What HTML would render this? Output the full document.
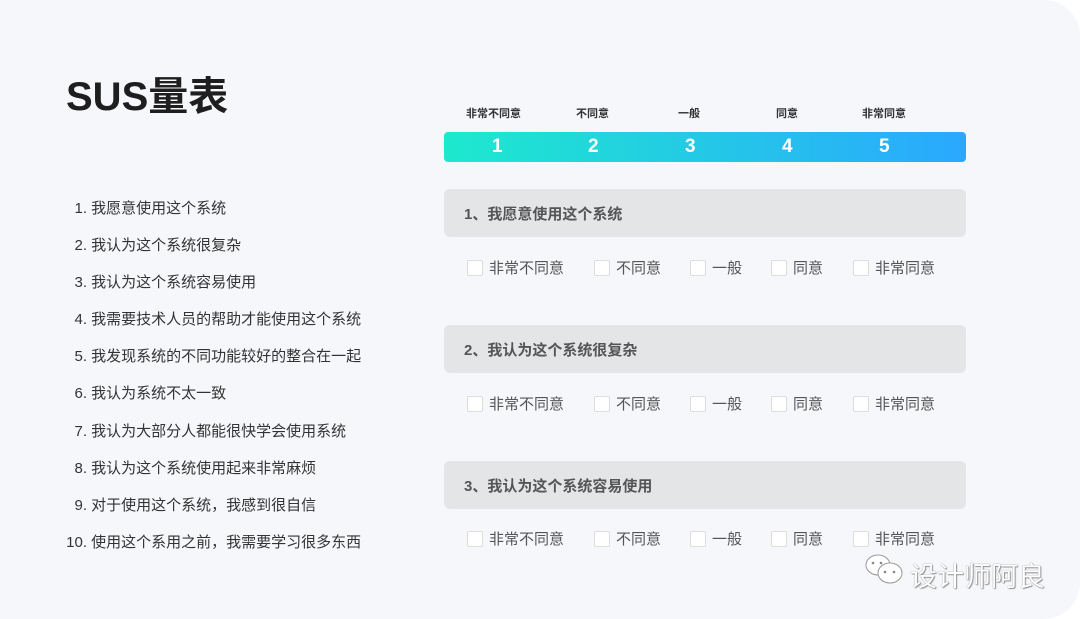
<!DOCTYPE html>
<html><head><meta charset="utf-8"><style>
*{margin:0;padding:0;box-sizing:border-box}
body{width:1080px;height:619px;background:#fff;position:relative;overflow:hidden;font-family:"Liberation Sans","Noto Sans CJK SC",sans-serif}
.card{position:absolute;left:0;top:0;width:1080px;height:619px;background:#f6f7fb;border-radius:0 36px 36px 0}
.t{position:absolute;white-space:nowrap}
.title{left:66px;top:64px;font-size:40px;font-weight:bold;color:#1e1e1e}
.li{left:58px;font-size:15px;color:#333;width:400px}
.li span{display:inline-block;width:29px;text-align:right}
.hd{font-size:11px;font-weight:bold;color:#333;top:105px}
.bar{position:absolute;left:444px;top:132px;width:522px;height:30px;border-radius:4px;background:linear-gradient(90deg,#1de9cd,#2aa8ff)}
.n{color:#fff;font-size:19px;top:136px;font-weight:bold}
.q{position:absolute;left:444px;width:522px;height:48px;background:#e4e5e7;border-radius:6px;font-size:15px;font-weight:bold;color:#555;padding:14px 0 0 20px}
.cb{position:absolute;width:16px;height:16px;background:#fff;border:1px solid #ddd;border-radius:2px}
.cl{font-size:15px;color:#555}
</style></head><body>
<div class="card"></div>
<div class="t title">SUS量表</div>
<div class="t li" style="top:197px"><span>1.</span> 我愿意使用这个系统</div>
<div class="t li" style="top:234px"><span>2.</span> 我认为这个系统很复杂</div>
<div class="t li" style="top:271px"><span>3.</span> 我认为这个系统容易使用</div>
<div class="t li" style="top:308px"><span>4.</span> 我需要技术人员的帮助才能使用这个系统</div>
<div class="t li" style="top:345px"><span>5.</span> 我发现系统的不同功能较好的整合在一起</div>
<div class="t li" style="top:382px"><span>6.</span> 我认为系统不太一致</div>
<div class="t li" style="top:420px"><span>7.</span> 我认为大部分人都能很快学会使用系统</div>
<div class="t li" style="top:457px"><span>8.</span> 我认为这个系统使用起来非常麻烦</div>
<div class="t li" style="top:494px"><span>9.</span> 对于使用这个系统，我感到很自信</div>
<div class="t li" style="top:531px"><span>10.</span> 使用这个系用之前，我需要学习很多东西</div>
<div class="t hd" style="left:466px">非常不同意</div>
<div class="t hd" style="left:576px">不同意</div>
<div class="t hd" style="left:678px">一般</div>
<div class="t hd" style="left:776px">同意</div>
<div class="t hd" style="left:862px">非常同意</div>
<div class="bar"></div>
<div class="t n" style="left:492px">1</div>
<div class="t n" style="left:588px">2</div>
<div class="t n" style="left:685px">3</div>
<div class="t n" style="left:782px">4</div>
<div class="t n" style="left:879px">5</div>
<div class="q" style="top:189px">1、我愿意使用这个系统</div>
<div class="q" style="top:325px">2、我认为这个系统很复杂</div>
<div class="q" style="top:461px">3、我认为这个系统容易使用</div>
<div id="opts"></div>
<script>
var xs=[467,594,690,771,853],lb=["非常不同意","不同意","一般","同意","非常同意"],ys=[260,396,531],h="";
ys.forEach(function(y){xs.forEach(function(x,i){h+='<div class="cb" style="left:'+x+'px;top:'+y+'px"></div><div class="t cl" style="left:'+(x+22)+'px;top:'+(y-3)+'px">'+lb[i]+'</div>';});});
document.getElementById('opts').innerHTML=h;
</script>
<svg style="position:absolute;left:864px;top:553px" width="42" height="34">
<ellipse cx="14" cy="12" rx="12" ry="10" fill="#fff" stroke="#999"/>
<ellipse cx="26" cy="20" rx="12" ry="10" fill="#fff" stroke="#999"/>
<circle cx="21" cy="19" r="1.3" fill="#888"/><circle cx="30" cy="19" r="1.3" fill="#888"/>
<circle cx="9" cy="10" r="1.3" fill="#888"/><circle cx="17" cy="10" r="1.3" fill="#888"/>
</svg>
<div class="t" style="left:910px;top:555px;font-size:27px;color:#fff;text-shadow:0 0 1px #666,1px 1px 1px #999">设计师阿良</div>
</body></html>
